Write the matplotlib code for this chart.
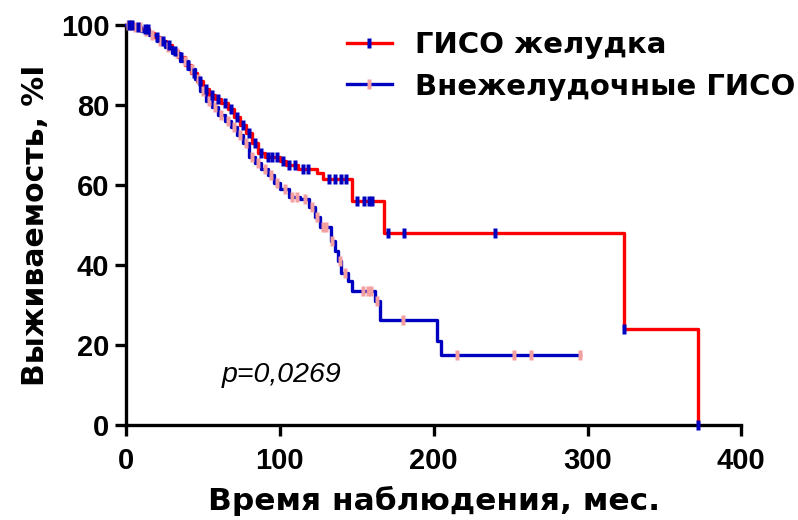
import matplotlib
matplotlib.use("Agg")
import matplotlib.pyplot as plt
import numpy as np
from matplotlib.lines import Line2D

plt.rcParams['font.family'] = ['Liberation Sans', 'DejaVu Sans']

# ГИСО желудка (stomach): step times / survival after step, censored times
gast_t = [0, 5, 10, 15, 18, 22, 26, 30, 34, 38, 42, 46, 50, 54, 58, 62, 66, 70,
          74, 78, 82, 86, 90, 100, 104, 112, 124, 128, 147, 168, 324, 372]
gast_s = [100, 99.5, 99, 98, 97, 96, 95, 93.5, 92, 90, 88, 86, 84, 82.5, 81.5,
          80.5, 79, 77, 75, 73, 70.5, 68, 67, 66, 65, 64, 63, 61.5, 56, 48, 24, 0]
gast_end = 372
gast_cens = [2, 4, 8, 12, 14, 20, 24, 28, 32, 36, 40, 44, 48, 52, 56, 60, 64, 68,
             72, 76, 80, 84, 88, 92, 95, 98, 102, 106, 110, 115, 118, 132, 136,
             140, 143, 150, 155, 158, 160, 170, 181, 240, 324, 372]

# Внежелудочные ГИСО (extra-gastric)
extra_t = [0, 5, 10, 15, 20, 25, 30, 35, 40, 45, 48, 52, 56, 60, 64, 68, 72, 76,
           80, 84, 88, 92, 96, 100, 106, 113, 119, 123, 126, 133, 136, 138, 140,
           144, 147, 162, 165, 202, 205]
extra_s = [100, 99.5, 98.5, 97.5, 96, 94.5, 93, 91, 89, 86.5, 83.5, 81, 79.5,
           77.5, 76, 74.5, 72.5, 70.5, 67, 65.5, 64, 62.5, 60.5, 59, 57, 56.5,
           54.5, 52, 49.5, 46, 43.5, 41, 38, 36, 33.5, 31, 26.3, 21, 17.5]
extra_end = 295
extra_cens = [1, 3, 6, 9, 13, 17, 22, 27, 33, 38, 43, 47, 50, 54, 58, 62, 66, 70,
              74, 78, 82, 86, 90, 94, 98, 103, 108, 111, 116, 121, 124, 128, 130,
              134, 139, 142, 154, 157, 159, 163, 180, 215, 252, 263, 295]

labels = ["ГИСО желудка", "Внежелудочные ГИСО"]

RED = "#ff0000"
BLUE = "#0000c0"
PINK = "#f4a0a0"
tick_mark = [(-0.4, -1), (0.4, -1), (0.4, 1), (-0.4, 1)]
wide = ['DejaVu Sans']


def surv_at(times, surv, t):
    idx = np.searchsorted(times, t, side='right') - 1
    return np.array(surv)[idx]


fig = plt.figure(figsize=(7.98, 5.2), dpi=100)
ax = fig.add_axes([0.158, 0.183, 0.771, 0.769])

ax.step(gast_t + [gast_end], gast_s + [gast_s[-1]], where='post', color=RED,
        lw=2.4, clip_on=False, zorder=3)
ax.step(extra_t + [extra_end], extra_s + [extra_s[-1]], where='post', color=BLUE,
        lw=2.4, clip_on=False, zorder=4)
ax.plot(extra_cens, surv_at(extra_t, extra_s, extra_cens), ls='none',
        marker=tick_mark, ms=7.5, color=PINK, mec='none', clip_on=False, zorder=5)
ax.plot(gast_cens, surv_at(gast_t, gast_s, gast_cens), ls='none',
        marker=tick_mark, ms=7.5, color=BLUE, mec='none', clip_on=False, zorder=6)

ax.set_xlim(0, 400)
ax.set_ylim(0, 100)
ax.set_xticks([0, 100, 200, 300, 400])
ax.set_yticks([0, 20, 40, 60, 80, 100])
for side in ['top', 'right']:
    ax.spines[side].set_visible(False)
for side in ['left', 'bottom']:
    ax.spines[side].set_linewidth(2.4)
ax.tick_params(direction='out', length=8, width=2.4, labelsize=21)
ax.tick_params(axis='x', pad=8)
ax.tick_params(axis='y', pad=4)
for lab in ax.get_xticklabels() + ax.get_yticklabels():
    lab.set_fontweight('bold')

ax.set_xlabel("Время наблюдения, мес.", fontsize=22.5, fontweight='bold',
              family=wide, labelpad=8)
ax.set_ylabel("Выживаемость, %I", fontsize=21.5, fontweight='bold',
              family=wide, labelpad=8)

ax.text(62, 12.5, "p=0,0269", fontsize=20.5, fontstyle='italic', va='center')

handles = [Line2D([], [], color=RED, lw=2.4, marker=tick_mark, ms=7.5,
                  mfc=BLUE, mec='none'),
           Line2D([], [], color=BLUE, lw=2.4, marker=tick_mark, ms=7.5,
                  mfc=PINK, mec='none')]
leg = fig.legend(handles, labels, loc='upper left', bbox_to_anchor=(0.42, 0.962),
                 frameon=False, prop={'family': wide, 'weight': 'bold', 'size': 21},
                 handlelength=1.55, handletextpad=0.8, labelspacing=0.45,
                 numpoints=1, borderaxespad=0)

fig.savefig("out.png", dpi=100)
